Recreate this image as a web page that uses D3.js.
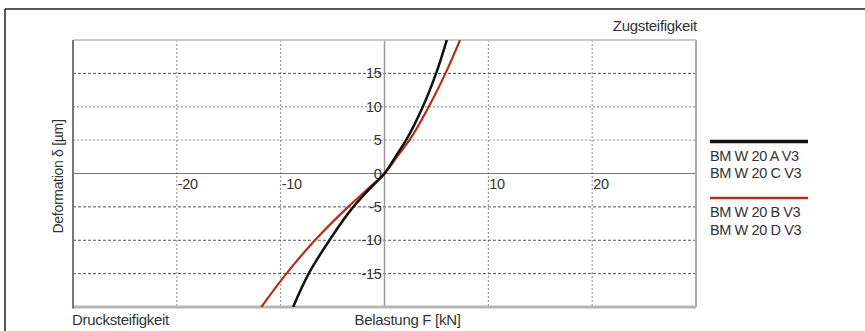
<!DOCTYPE html>
<html>
<head>
<meta charset="utf-8">
<script src="https://cdn.jsdelivr.net/npm/d3@7"></script>
<style>
  body { margin: 0; background: #fff; }
  text { font-family: "Liberation Sans", Arial, sans-serif; fill: #333; }
</style>
</head>
<body>
<div id="chart"></div>
<script>
const width = 865;
const height = 331;

// Werte aus dem Diagramm (Belastung F [kN], Deformation δ [µm])
const forceAC = [-8.8, -7.3, -5.3, -3.0, -1.55, 0, 1.05, 2.08, 3.69, 4.97, 6.0];
const deformAC = [-20, -15, -10, -5, -2.5, 0, 2.5, 5, 10, 15, 20];
const forceBD = [-11.86, -9.45, -6.7, -3.5, -1.75, 0, 1.2, 2.4, 4.26, 5.87, 7.28];
const deformBD = [-20, -15, -10, -5, -2.5, 0, 2.5, 5, 10, 15, 20];

const xTicks = [-20, -10, 10, 20];
const yTicks = [-15, -10, -5, 0, 5, 10, 15];
const xGrid = [-20, -10, 10, 20];
const yGrid = [-15, -10, -5, 5, 10, 15];
const yGridDark = [-15, -10, -5, 15];

const legendAC = ["BM W 20 A V3", "BM W 20 C V3"];
const legendBD = ["BM W 20 B V3", "BM W 20 D V3"];

const svg = d3.select("#chart")
  .append("svg")
  .attr("width", width)
  .attr("height", height);

// Rahmen außen
svg.append("line").attr("x1", 5).attr("x2", width).attr("y1", 9).attr("y2", 9)
  .attr("stroke", "#222").attr("stroke-width", 1.5);
svg.append("line").attr("x1", 5).attr("x2", 5).attr("y1", 9).attr("y2", height)
  .attr("stroke", "#222").attr("stroke-width", 1.5);

const x = d3.scaleLinear().domain([-30, 30]).range([73, 696]);
const y = d3.scaleLinear().domain([-20, 20]).range([307, 40]);

// Gitter
svg.selectAll(".vgrid")
  .data(xGrid)
  .enter()
  .append("line")
  .attr("x1", d => x(d)).attr("x2", d => x(d))
  .attr("y1", y(20)).attr("y2", y(-20))
  .attr("stroke", "#888")
  .attr("stroke-width", 1)
  .attr("stroke-dasharray", "2,2");

svg.selectAll(".hgrid")
  .data(yGrid)
  .enter()
  .append("line")
  .attr("x1", x(-30)).attr("x2", x(30))
  .attr("y1", d => y(d)).attr("y2", d => y(d))
  .attr("stroke", d => yGridDark.includes(d) ? "#555" : "#aaa")
  .attr("stroke-width", d => yGridDark.includes(d) ? 1 : 1.3)
  .attr("stroke-dasharray", d => yGridDark.includes(d) ? "3,2" : "2,2");

// Nullachsen
svg.append("line")
  .attr("x1", x(0)).attr("x2", x(0)).attr("y1", y(20)).attr("y2", y(-20))
  .attr("stroke", "#999").attr("stroke-width", 1.5);
svg.append("line")
  .attr("x1", x(-30)).attr("x2", x(30)).attr("y1", y(0)).attr("y2", y(0))
  .attr("stroke", "#777").attr("stroke-width", 1);

// Plotrahmen
svg.append("line").attr("x1", x(-30)).attr("x2", x(30)).attr("y1", y(20)).attr("y2", y(20))
  .attr("stroke", "#c8c8c8").attr("stroke-width", 2);
svg.append("line").attr("x1", x(30)).attr("x2", x(30)).attr("y1", y(20)).attr("y2", y(-20))
  .attr("stroke", "#aaa").attr("stroke-width", 2);
svg.append("line").attr("x1", x(-30)).attr("x2", x(30)).attr("y1", y(-20)).attr("y2", y(-20))
  .attr("stroke", "#b5b5b5").attr("stroke-width", 3);
svg.append("line").attr("x1", x(-30)).attr("x2", x(-30)).attr("y1", y(20)).attr("y2", y(-20) + 1.5)
  .attr("stroke", "#777").attr("stroke-width", 2);

// Achsenbeschriftung
svg.selectAll(".ylab")
  .data(yTicks)
  .enter()
  .append("text")
  .attr("x", x(0) - 3)
  .attr("y", d => y(d))
  .attr("dy", "0.35em")
  .attr("text-anchor", "end")
  .attr("font-size", 14.5)
  .attr("letter-spacing", -0.3)
  .text(d => d);

svg.selectAll(".xlab")
  .data(xTicks)
  .enter()
  .append("text")
  .attr("x", d => x(d) + 1)
  .attr("y", y(0) + 15)
  .attr("font-size", 14.5)
  .attr("letter-spacing", -0.3)
  .text(d => d);

svg.append("text")
  .attr("transform", `translate(${x(-30) - 10},${y(0) + 3}) rotate(-90)`)
  .attr("text-anchor", "middle")
  .attr("font-size", 14)
  .attr("letter-spacing", -0.3)
  .text("Deformation δ [µm]");

svg.append("text")
  .attr("x", x(0) + 23)
  .attr("y", 325)
  .attr("text-anchor", "middle")
  .attr("font-size", 15)
  .attr("letter-spacing", -0.3)
  .text("Belastung F [kN]");

svg.append("text")
  .attr("x", x(-30) - 1)
  .attr("y", 325)
  .attr("font-size", 15)
  .attr("letter-spacing", -0.3)
  .text("Drucksteifigkeit");

svg.append("text")
  .attr("x", x(30) + 1)
  .attr("y", 31)
  .attr("text-anchor", "end")
  .attr("font-size", 15)
  .attr("letter-spacing", -0.3)
  .text("Zugsteifigkeit");

// Kurven
svg.append("clipPath").attr("id", "plot")
  .append("rect")
  .attr("x", x(-30)).attr("y", y(20))
  .attr("width", x(30) - x(-30)).attr("height", y(-20) - y(20));

const line = d3.line()
  .x(d => x(d[0]))
  .y(d => y(d[1]))
  .curve(d3.curveMonotoneY);

svg.append("path")
  .datum(d3.zip(forceBD, deformBD))
  .attr("clip-path", "url(#plot)")
  .attr("fill", "none")
  .attr("stroke", "#b0301c")
  .attr("stroke-width", 2.2)
  .attr("d", line);

svg.append("path")
  .datum(d3.zip(forceAC, deformAC))
  .attr("clip-path", "url(#plot)")
  .attr("fill", "none")
  .attr("stroke", "#111")
  .attr("stroke-width", 2.5)
  .attr("d", line);

// Legende
const legend = [
  { color: "#111", y: 141.5, labels: legendAC },
  { color: "#b0301c", y: 198, labels: legendBD }
];

legend.forEach(l => {
  svg.append("line")
    .attr("x1", 710).attr("x2", 808)
    .attr("y1", l.y).attr("y2", l.y)
    .attr("stroke", l.color)
    .attr("stroke-width", l.color === "#111" ? 3.5 : 2.5);
  l.labels.forEach((t, i) => {
    svg.append("text")
      .attr("x", 710)
      .attr("y", l.y + 14 + i * 17.5)
      .attr("dy", "0.35em")
      .attr("font-size", 14.5)
      .attr("letter-spacing", -0.4)
      .text(t);
  });
});
</script>
</body>
</html>
